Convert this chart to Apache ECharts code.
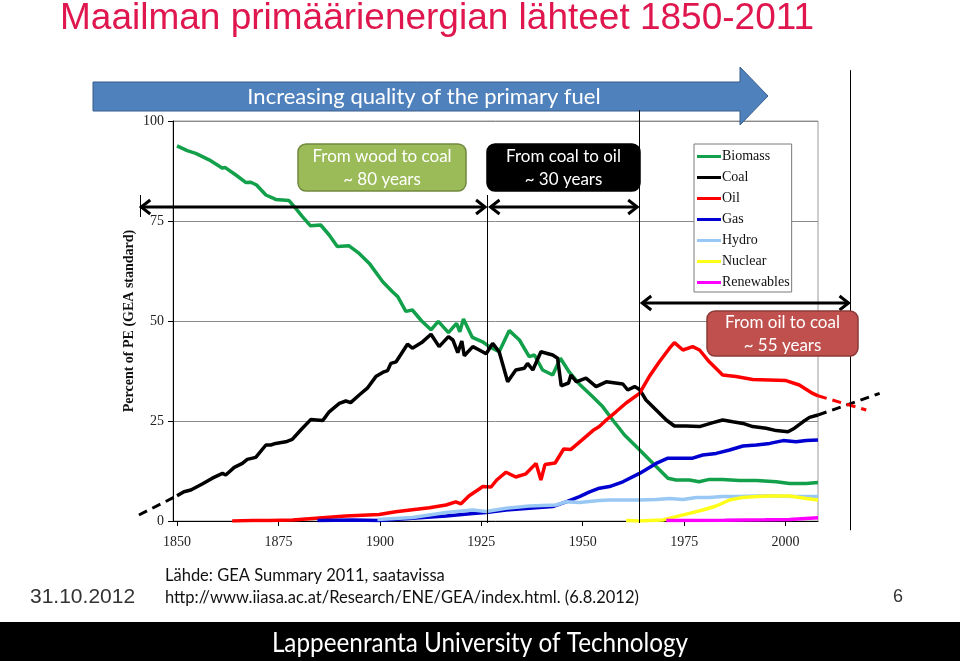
<!DOCTYPE html>
<html><head><meta charset="utf-8">
<script src="https://cdn.jsdelivr.net/npm/echarts@6/dist/echarts.min.js"></script>
<style>html,body{margin:0;padding:0;background:#fff;}#c{width:960px;height:661px;}</style>
</head><body><div id="c"></div>
<script>
// ---- data (year, percent of primary energy) ----
const seriesNames = ['Biomass','Coal','Oil','Gas','Hydro','Nuclear','Renewables'];
const xTickLabels = [1850,1875,1900,1925,1950,1975,2000];
const yTicks = [0,25,50,75,100];
const biomass = [[1850,93.8],[1852.5,92.6],[1854.6,91.9],[1857.9,90.3],[1861.2,88.2],[1861.8,88.4],[1864.5,86.5],[1867,84.6],[1868.2,84.7],[1869.6,84],[1871.9,81.5],[1873.5,80.8],[1874.3,80.4],[1877.6,80.1],[1878.9,78.6],[1880.9,76.1],[1882.9,73.8],[1885.4,74],[1887.5,71.5],[1889.5,68.6],[1892.4,68.8],[1894.9,66.9],[1897.4,64.4],[1900.7,59.8],[1903.1,57.3],[1904.4,56.1],[1906.4,52.4],[1908,52.75],[1910.3,50],[1912.6,47.8],[1914.4,49.9],[1916.9,47.1],[1918.9,49.4],[1919.7,47.3],[1920.6,50.5],[1922.8,45.9],[1925.3,44.8],[1927,43.6],[1929.4,42.3],[1931.9,47.6],[1934.4,45.25],[1936.8,41.1],[1938.1,41.5],[1940.1,37.75],[1942.6,36.5],[1944.5,40.7],[1946.7,37.2],[1949.2,34.2],[1952.4,31.1],[1954.9,28.6],[1957.4,25.25],[1960.3,21.5],[1963.8,18],[1968.1,13.6],[1971,10.7],[1973,10.25],[1976.3,10.25],[1978.7,9.8],[1981.2,10.4],[1984.5,10.4],[1988.6,10.1],[1992.8,10.1],[1997.7,9.8],[2001,9.4],[2005.1,9.4],[2008,9.6]];
const coal = [[1850,6.3],[1851.7,7.3],[1853.4,7.75],[1856.2,9.25],[1858.7,10.7],[1861.2,11.9],[1862,11.5],[1864.1,13.4],[1866.1,14.4],[1867.3,15.4],[1869.4,15.9],[1871.9,19],[1873.1,19],[1874.3,19.4],[1876.8,19.8],[1878.4,20.4],[1880.5,22.75],[1883,25.4],[1885.9,25.1],[1887.5,27.3],[1890,29.4],[1891.6,30],[1892.8,29.6],[1894.9,31.5],[1896.9,33.2],[1899,36.1],[1901,37.3],[1901.9,37.6],[1902.7,39.4],[1904,39.8],[1906.8,44.2],[1908,43.2],[1910.3,44.6],[1912.6,46.7],[1914.6,43.6],[1916.9,46.1],[1918,45.25],[1919.2,42.1],[1920.2,45],[1920.8,41.3],[1922.9,43.6],[1924.5,42.75],[1926.2,41.8],[1927.8,44.4],[1929.4,42.3],[1931.5,34.8],[1933.5,37.75],[1935.6,38.2],[1936.4,39.4],[1937.7,37.75],[1939.7,42.3],[1942.6,41.5],[1943.8,40.7],[1944.7,33.8],[1946.5,34.5],[1947.1,36.5],[1948.4,34.8],[1950.8,35.7],[1953.3,33.6],[1955.8,34.8],[1959.9,34.25],[1961.1,32.75],[1962.8,33.6],[1964,32.9],[1965.6,30.25],[1968.1,27.75],[1970.6,25.25],[1972.6,23.75],[1975.5,23.75],[1978.8,23.6],[1982.1,24.6],[1984.5,25.25],[1987,24.8],[1989.5,24.4],[1991.9,23.6],[1995.2,23.2],[1997.7,22.6],[2000.6,22.3],[2002.2,23.2],[2004.3,24.8],[2005.9,25.9],[2008,26.5]];
const oil = [[1863.6,0],[1868.6,0.1],[1872.7,0.1],[1878.5,0.25],[1884.2,0.7],[1891.6,1.25],[1899.8,1.6],[1903.9,2.3],[1908,2.8],[1912.2,3.3],[1916.3,4],[1918.7,4.8],[1920,4.3],[1922,6.3],[1924.5,8],[1925.3,8.6],[1927.4,8.5],[1928.8,10.25],[1931.1,12.2],[1933.5,11],[1936,11.8],[1938.5,14.4],[1939.7,10.25],[1940.7,14.1],[1943.2,14.5],[1945.3,18],[1947.1,17.9],[1950,20.4],[1952.5,22.6],[1954.1,23.6],[1955.8,25.25],[1958.2,27.3],[1960.7,29.5],[1964,31.9],[1966.4,36.1],[1968.9,39.8],[1971.4,43.2],[1972.6,44.6],[1974.7,42.75],[1977.1,43.6],[1978.8,42.75],[1981.2,39.8],[1984.5,36.5],[1987.8,36.1],[1991.9,35.4],[1996,35.25],[2000.1,35.1],[2003.4,34],[2006.7,31.9],[2008,31.3]];
const gas = [[1884.6,0.1],[1893.3,0.25],[1899.8,0.1],[1908,0.7],[1916.3,1.25],[1922.9,1.9],[1926.2,2.1],[1931.1,2.75],[1936.8,3.2],[1942.6,3.6],[1945.9,4.8],[1949.2,6.1],[1951.7,7.3],[1954.1,8.2],[1956.6,8.6],[1959.9,9.8],[1964,11.9],[1968.1,14.4],[1971,15.7],[1973.9,15.7],[1977.1,15.7],[1979.6,16.5],[1982.9,16.9],[1986.2,17.75],[1989.5,18.75],[1992.8,19],[1996.1,19.4],[1999.4,20.1],[2002.6,19.8],[2005.1,20.1],[2008,20.25]];
const hydro = [[1899.4,0.4],[1908,0.9],[1916.3,2.1],[1922.9,2.75],[1926.2,2.4],[1931.1,3.2],[1936.8,3.75],[1943.4,4],[1945.9,4.8],[1949.2,4.6],[1954.1,5.1],[1956.6,5.25],[1964,5.25],[1968.1,5.4],[1971.4,5.6],[1974.7,5.4],[1978,5.9],[1981.2,5.9],[1984.5,6.1],[1988.6,6.1],[1992.8,6.25],[1997.7,6.25],[2002.6,6.1],[2008,6.1]];
const nuclear = [[1960.7,0.1],[1964,0],[1969.7,0.25],[1973,1.1],[1976.3,1.9],[1979.6,2.75],[1982.9,3.75],[1986.2,5.25],[1989.5,5.9],[1992.8,6.1],[1996.1,6.25],[2001,6.25],[2005.1,5.6],[2008,5.25]];
const renewables = [[1970.6,0.1],[1985,0.2],[1995,0.3],[2001,0.4],[2008,0.8]];
const coalPast = [[1840.6,1.5],[1850,6.3]];
const coalFuture = [[2008,26.5],[2023.2,31.9]];
const oilFuture = [[2008,31.3],[2019.9,27.75]];
// transition periods (years)
const transitions = [
  {from:1840.8, to:1926.3, y:78.6, label:'From wood to coal\n~ 80 years'},
  {from:1926.9, to:1963.8, y:78.6, label:'From coal to oil\n~ 30 years'},
  {from:1964.3, to:2015.9, y:54.5, label:'From oil to coal\n~ 55 years'}
];
const markerYears = [1926.3, 1963.9, 2015.9];

const colors = ['#12a04a','#000000','#ff0000','#0000d0','#99c8f4','#ffff1a','#ff00ff'];
const allData = [biomass, coal, oil, gas, hydro, nuclear, renewables];

const chart = echarts.init(document.getElementById('c'), null, {renderer:'canvas'});
const serif = '"Liberation Serif","Times New Roman",serif';
const series = seriesNames.map((n,i)=>({
  name:n, type:'line', data:allData[i], showSymbol:false, symbol:'none', z: 3,
  lineStyle:{color:colors[i], width:3.5}, itemStyle:{color:colors[i]}, animation:false
}));

chart.setOption({
  animation:false,
  grid:{left:173, right:142, top:121, bottom:140, show:true, borderColor:'#9a9a9a', borderWidth:1, backgroundColor:'transparent'},
  xAxis:{type:'value', min:1849, max:2008,
    axisLine:{show:true, lineStyle:{color:'#000', width:1}},
    axisTick:{show:true, customValues:xTickLabels, length:5, lineStyle:{color:'#000'}},
    axisLabel:{customValues:xTickLabels, formatter:v=>String(v), margin:14, fontFamily:serif, fontSize:14, color:'#222'},
    splitLine:{show:false}},
  yAxis:{type:'value', min:0, max:100, interval:25,
    name:'Percent of PE (GEA standard)', nameLocation:'middle', nameGap:37, nameMoveOverlap:false,
    nameTextStyle:{fontFamily:serif, fontSize:14, fontWeight:'bold', color:'#111'},
    axisLine:{show:true, lineStyle:{color:'#000', width:1}},
    axisTick:{show:true, length:5, lineStyle:{color:'#000'}},
    axisLabel:{margin:9, fontFamily:serif, fontSize:14, color:'#222'},
    splitLine:{show:true, lineStyle:{color:'#8a8a8a', width:1}}},
  legend:{data:seriesNames, orient:'vertical', left:694, top:144,
    backgroundColor:'#fff', borderColor:'#7a7a7a', borderWidth:1, padding:[4,2,1,3],
    itemWidth:24, itemHeight:3, itemGap:4, icon:'rect', z:10,
    textStyle:{fontFamily:serif, fontSize:14, color:'#111', padding:[0,0,0,-4], height:17, lineHeight:17}},
  series: series
});

function px(x,y){ return chart.convertToPixel({gridIndex:0},[x,y]); }
const g = [];
// dashed extrapolations, placed through the chart's own scales
[[coalPast,'#000'],[coalFuture,'#000'],[oilFuture,'#ff0000']].forEach(d=>{
  g.push({type:'polyline', shape:{points:d[0].map(p=>px(p[0],p[1]))}, style:{stroke:d[1], lineWidth:3, lineDash:[9,6], fill:null}, z:3});
});
// title
g.push({type:'text', left:60, top:0, style:{text:'Maailman primäärienergian lähteet 1850-2011', font:'37px "Liberation Sans", Arial, sans-serif', fill:'#e0174e'}});
// blue arrow
g.push({type:'polygon', shape:{points:[[93,82],[740,82],[740,67],[768,96],[740,125],[740,111],[93,111]]}, style:{fill:'#4f81bd', stroke:'#385d8a', lineWidth:1}, z:1});
g.push({type:'text', x:424, y:97, style:{text:'Increasing quality of the primary fuel', font:'22px Lato, "Open Sans", sans-serif', fill:'#fff', align:'center', verticalAlign:'middle'}, z:2});
// vertical marker lines
const vTops = [81.5, 102.7, 112.7];
const vBots = [-0.5, -0.5, -2.3];
markerYears.forEach((yr,i)=>{
  const a = px(yr, vTops[i]), b = px(yr, vBots[i]);
  g.push({type:'line', shape:{x1:Math.round(a[0])+0.5, y1:a[1], x2:Math.round(a[0])+0.5, y2:b[1]}, style:{stroke:'#000', lineWidth:1}, z:4});
});
// left marker at start of wood->coal arrow
{const a = px(transitions[0].from, 81.5), b = px(transitions[0].from, 76);
 g.push({type:'line', shape:{x1:Math.round(a[0])+0.5,y1:a[1],x2:Math.round(a[0])+0.5,y2:b[1]}, style:{stroke:'#000',lineWidth:1}, z:4});}
// double arrows
transitions.forEach(t=>{
  const a = px(t.from, t.y), b = px(t.to, t.y);
  const y = Math.round(a[1]);
  const x1 = a[0]+1.5, x2 = b[0]-1.5;
  g.push({type:'line', shape:{x1:x1, y1:y, x2:x2, y2:y}, style:{stroke:'#000', lineWidth:3}, z:5});
  g.push({type:'polyline', shape:{points:[[x1+9,y-7],[x1,y],[x1+9,y+7]]}, style:{stroke:'#000', lineWidth:3, fill:null}, z:5});
  g.push({type:'polyline', shape:{points:[[x2-9,y-7],[x2,y],[x2-9,y+7]]}, style:{stroke:'#000', lineWidth:3, fill:null}, z:5});
});
// labelled boxes
const boxes = [
  {x:298, y:144, w:168, h:47, fill:'#9bbb59', stroke:'#71893f', t:transitions[0].label},
  {x:487, y:144, w:153, h:47, fill:'#000000', stroke:'#000000', t:transitions[1].label},
  {x:707, y:311, w:151, h:45, fill:'#c0504d', stroke:'#8c3836', t:transitions[2].label}
];
boxes.forEach(b=>{
  g.push({type:'rect', shape:{x:b.x, y:b.y, width:b.w, height:b.h, r:8}, style:{fill:b.fill, stroke:b.stroke, lineWidth:1.5}, z:6});
  g.push({type:'text', x:b.x+b.w/2, y:b.y+b.h/2+1, style:{text:b.t, font:'17px Lato, "Open Sans", sans-serif', fill:'#fff', align:'center', verticalAlign:'middle', lineHeight:23}, z:7});
});
// footer
g.push({type:'text', x:30, y:597, style:{text:'31.10.2012', font:'21px "Liberation Sans", Arial, sans-serif', fill:'#333', verticalAlign:'middle'}});
g.push({type:'text', x:165, y:576, style:{text:'Lähde: GEA Summary 2011, saatavissa', font:'16.5px Lato, sans-serif', fill:'#111', verticalAlign:'middle'}});
g.push({type:'text', x:165, y:598, style:{text:'http://www.iiasa.ac.at/Research/ENE/GEA/index.html. (6.8.2012)', font:'16.5px Lato, sans-serif', fill:'#111', verticalAlign:'middle'}});
g.push({type:'text', x:893, y:597, style:{text:'6', font:'18px "Liberation Sans", Arial, sans-serif', fill:'#333', verticalAlign:'middle'}});
g.push({type:'rect', shape:{x:0, y:622, width:960, height:39}, style:{fill:'#000'}});
g.push({type:'text', x:480, y:643, scaleX:0.9, style:{text:'Lappeenranta University of Technology', font:'27px Lato, sans-serif', fill:'#fff', align:'center', verticalAlign:'middle'}});
chart.setOption({graphic:g});
</script></body></html>
